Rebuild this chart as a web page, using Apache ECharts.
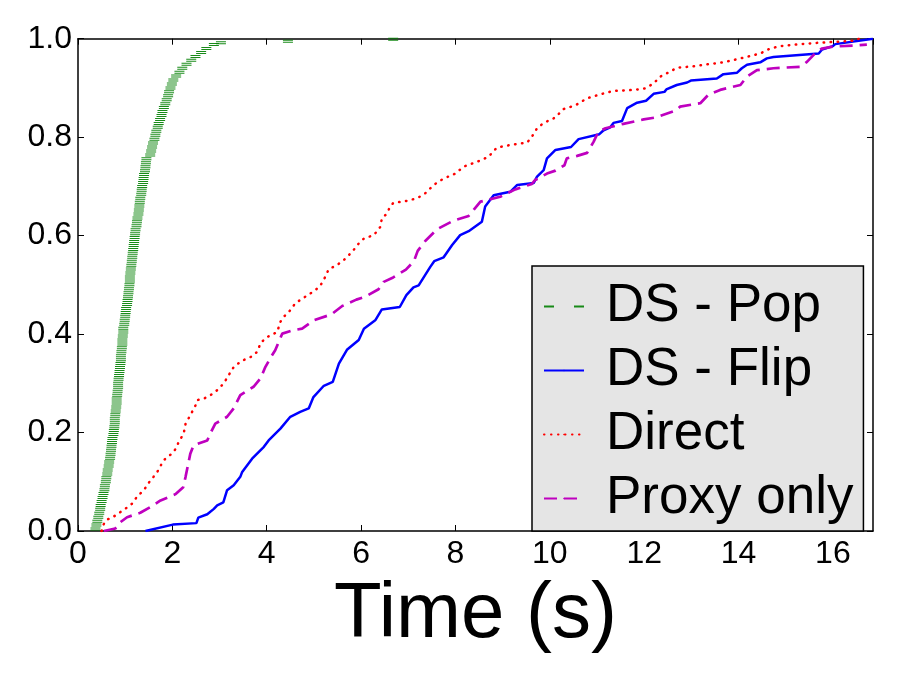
<!DOCTYPE html>
<html><head><meta charset="utf-8">
<script src="https://cdn.jsdelivr.net/npm/echarts@6/dist/echarts.min.js"></script>
<style>html,body{margin:0;padding:0;background:#fff}#c{width:900px;height:675px}</style>
</head><body><div id="c"></div>
<script>
const seriesNames = ['DS - Pop', 'DS - Flip', 'Direct', 'Proxy only'];
const xTitle = 'Time (s)';

const dsPop = [
[0.37,0.004],[0.39,0.012],[0.41,0.020],[0.43,0.028],[0.45,0.036],[0.47,0.044],
[0.48,0.052],[0.50,0.060],[0.52,0.068],[0.54,0.076],[0.56,0.084],[0.57,0.092],[0.59,0.100],
[0.60,0.108],[0.62,0.116],[0.63,0.124],[0.65,0.132],[0.66,0.140],[0.68,0.148],
[0.69,0.156],[0.70,0.164],[0.71,0.172],[0.72,0.180],[0.73,0.188],[0.75,0.196],[0.76,0.204],
[0.77,0.212],[0.78,0.220],[0.78,0.228],[0.79,0.236],[0.80,0.244],[0.81,0.252],
[0.82,0.260],[0.82,0.268],[0.83,0.276],[0.84,0.284],[0.85,0.292],[0.85,0.300],[0.86,0.308],
[0.87,0.316],[0.88,0.324],[0.89,0.332],[0.90,0.340],[0.91,0.348],
[0.91,0.356],[0.92,0.364],[0.93,0.372],[0.94,0.380],[0.94,0.388],[0.95,0.396],[0.96,0.404],
[0.96,0.412],[0.98,0.420],[0.99,0.428],[1.00,0.436],[1.01,0.444],
[1.02,0.452],[1.04,0.460],[1.05,0.468],[1.06,0.476],[1.07,0.484],[1.08,0.492],[1.09,0.500],
[1.10,0.508],[1.10,0.516],[1.11,0.524],[1.12,0.532],[1.13,0.540],
[1.14,0.548],[1.15,0.556],[1.16,0.564],[1.17,0.572],[1.18,0.580],[1.19,0.588],[1.20,0.596],
[1.21,0.604],[1.22,0.612],[1.24,0.620],[1.25,0.628],[1.26,0.636],[1.28,0.644],
[1.29,0.652],[1.30,0.660],[1.31,0.668],[1.32,0.676],[1.34,0.684],[1.35,0.692],
[1.36,0.700],[1.38,0.708],[1.39,0.716],[1.40,0.724],[1.42,0.732],[1.43,0.740],[1.44,0.748],
[1.45,0.756],[1.53,0.764],[1.55,0.772],
[1.57,0.780],[1.59,0.788],[1.62,0.796],[1.64,0.804],[1.66,0.812],
[1.69,0.820],[1.71,0.828],[1.74,0.836],[1.77,0.844],
[1.79,0.852],[1.82,0.860],[1.85,0.868],[1.88,0.876],
[1.91,0.884],[1.93,0.892],[1.96,0.900],[1.99,0.908],[2.02,0.916],
[2.08,0.924],[2.15,0.932],[2.21,0.940],
[2.30,0.948],[2.40,0.956],[2.49,0.964],
[2.61,0.972],[2.72,0.980],[2.88,0.988],[3.03,0.992],
[4.45,0.995],[6.68,0.999]
];

const dsFlip = [
[1.43,0],[2.01,0.013],[2.51,0.016],[2.55,0.027],[2.74,0.034],[2.88,0.045],[2.95,0.052],[3.08,0.058],
[3.16,0.083],[3.30,0.093],[3.44,0.110],[3.48,0.120],[3.69,0.147],[3.94,0.171],[4.04,0.184],[4.29,0.208],
[4.50,0.232],[4.71,0.242],[4.89,0.249],[4.99,0.272],[5.21,0.295],[5.40,0.303],[5.53,0.340],[5.70,0.368],
[5.95,0.388],[6.06,0.411],[6.30,0.428],[6.44,0.450],[6.82,0.455],[6.96,0.479],[7.11,0.495],[7.22,0.499],
[7.47,0.537],[7.55,0.548],[7.75,0.556],[7.93,0.581],[8.10,0.601],[8.28,0.609],[8.56,0.628],[8.63,0.659],
[8.81,0.682],[9.16,0.689],[9.31,0.703],[9.66,0.707],[9.73,0.720],[9.87,0.733],[9.94,0.757],[10.12,0.774],
[10.45,0.780],[10.61,0.796],[11.05,0.806],[11.14,0.814],[11.28,0.820],[11.35,0.829],[11.53,0.833],[11.64,0.859],
[11.85,0.870],[12.04,0.874],[12.20,0.888],[12.43,0.892],[12.47,0.897],[12.69,0.906],[12.91,0.911],[12.99,0.915],
[13.54,0.919],[13.68,0.928],[13.97,0.931],[14.07,0.940],[14.18,0.947],[14.46,0.952],[14.60,0.960],[14.74,0.963],
[15.70,0.970],[15.77,0.978],[16.00,0.985],[16.05,0.989],[16.85,1.0]
];

const direct = [
[0.50,0],[0.54,0.013],[0.61,0.023],[0.72,0.027],[0.86,0.036],[1.03,0.047],[1.14,0.055],[1.27,0.072],
[1.39,0.082],[1.50,0.098],[1.60,0.110],[1.68,0.120],[1.74,0.130],[1.80,0.142],[1.89,0.150],[1.99,0.157],
[2.08,0.168],[2.13,0.180],[2.24,0.198],[2.28,0.218],[2.38,0.235],[2.49,0.255],[2.53,0.266],[2.67,0.269],
[2.81,0.276],[2.95,0.286],[3.09,0.300],[3.19,0.316],[3.30,0.333],[3.46,0.345],[3.67,0.354],[3.80,0.364],
[3.87,0.382],[4.01,0.394],[4.22,0.404],[4.29,0.425],[4.36,0.435],[4.47,0.445],[4.61,0.463],[4.82,0.476],
[5.03,0.489],[5.14,0.499],[5.24,0.516],[5.31,0.531],[5.53,0.543],[5.63,0.550],[5.81,0.567],[5.95,0.584],
[6.06,0.594],[6.27,0.601],[6.41,0.618],[6.44,0.635],[6.55,0.645],[6.62,0.660],[6.69,0.667],[6.90,0.669],
[7.19,0.676],[7.36,0.686],[7.54,0.703],[7.75,0.716],[8.00,0.726],[8.17,0.740],[8.46,0.750],[8.70,0.760],
[8.88,0.779],[9.16,0.784],[9.52,0.789],[9.62,0.801],[9.73,0.818],[9.87,0.829],[10.08,0.838],[10.22,0.850],
[10.29,0.857],[10.55,0.865],[10.79,0.879],[11.07,0.887],[11.35,0.894],[11.78,0.896],[12.02,0.899],[12.20,0.909],
[12.34,0.923],[12.55,0.933],[12.69,0.941],[13.05,0.944],[13.33,0.948],[13.61,0.951],[13.82,0.955],[14.04,0.960],
[14.25,0.965],[14.46,0.970],[14.67,0.980],[14.89,0.985],[15.31,0.989],[15.73,0.992],[16.15,0.994],[16.44,0.996],
[16.55,1.0]
];

const proxyOnly = [
[0.55,0],[0.79,0.005],[0.90,0.018],[1.04,0.028],[1.32,0.037],[1.54,0.049],[1.75,0.062],[2.07,0.075],
[2.23,0.089],[2.28,0.110],[2.38,0.157],[2.45,0.174],[2.74,0.184],[2.84,0.205],[2.91,0.218],[3.16,0.232],
[3.30,0.249],[3.44,0.276],[3.72,0.293],[3.87,0.310],[3.97,0.333],[4.10,0.355],[4.18,0.367],[4.33,0.401],
[4.57,0.408],[4.75,0.411],[5.00,0.428],[5.37,0.440],[5.60,0.457],[5.90,0.470],[6.09,0.476],[6.37,0.491],
[6.48,0.506],[6.68,0.515],[6.95,0.531],[7.12,0.548],[7.20,0.569],[7.36,0.589],[7.61,0.613],[7.95,0.630],
[8.28,0.640],[8.39,0.653],[8.53,0.669],[8.95,0.679],[9.27,0.694],[9.62,0.705],[9.69,0.713],[9.94,0.726],
[10.12,0.732],[10.31,0.743],[10.36,0.757],[10.58,0.762],[10.79,0.768],[10.93,0.791],[11.03,0.811],[11.18,0.818],
[11.56,0.827],[11.99,0.836],[12.24,0.840],[12.69,0.855],[12.76,0.862],[13.19,0.869],[13.36,0.886],[13.61,0.896],
[14.04,0.906],[14.18,0.923],[14.39,0.936],[14.74,0.940],[15.31,0.943],[15.45,0.953],[15.66,0.974],[15.77,0.980],
[16.01,0.984],[16.44,0.986],[16.72,0.988]
];

const xMin = 0, xMax = 16.85, xStep = 2;
const yMin = 0, yMax = 1, yStep = 0.2;

const F = 'Liberation Sans, Arial, sans-serif';
const frameLine = {show: true, onZero: false, lineStyle: {color: '#000', width: 1.5}};
const tickIn = {show: true, inside: true, length: 6, lineStyle: {color: '#000', width: 1}};

function xAxis(pos, labels) {
  return {
    type: 'value', position: pos, min: xMin, max: xMax, interval: xStep,
    axisLine: frameLine, axisTick: tickIn, splitLine: {show: false},
    axisLabel: {show: labels, showMaxLabel: false, margin: 7, color: '#000', fontSize: 32, fontFamily: F},
    name: labels ? xTitle : '', nameLocation: 'middle', nameGap: 45,
    nameTextStyle: {fontSize: 78, color: '#000', fontFamily: F}
  };
}
function yAxis(pos, labels) {
  return {
    type: 'value', position: pos, min: yMin, max: yMax, interval: yStep,
    axisLine: frameLine, axisTick: tickIn, splitLine: {show: false},
    axisLabel: {show: labels, margin: 6, color: '#000', fontSize: 32, fontFamily: F,
      formatter: v => v.toFixed(1)}
  };
}

const chart = echarts.init(document.getElementById('c'), null, {renderer: 'canvas'});
chart.setOption({
  animation: false,
  backgroundColor: '#fff',
  grid: {left: 78, right: 27, top: 38.7, bottom: 144, containLabel: false},
  xAxis: [xAxis('bottom', true), xAxis('top', false)],
  yAxis: [yAxis('left', true), yAxis('right', false)],
  legend: {
    orient: 'vertical', left: 532, top: 266, padding: [14, 10, 6, 11],
    itemWidth: 40, itemHeight: 2, itemGap: 11,
    backgroundColor: '#e5e5e5', borderColor: '#000', borderWidth: 1.5, borderRadius: 0,
    selectedMode: false,
    textStyle: {fontSize: 53, lineHeight: 50, color: '#000', fontFamily: F, padding: [0, 0, 0, 17]},
    data: [
      {name: seriesNames[0], icon: 'path://M0,0h10v2h-10z M30,0h10v2h-10z'},
      seriesNames[1], seriesNames[2], seriesNames[3]
    ]
  },
  series: [
    {name: seriesNames[0], type: 'scatter', data: dsPop,
      symbol: 'path://M0,0h10v1h-10z M0,2h10v1h-10z', symbolSize: [10, 3],
      itemStyle: {color: '#008000', opacity: 0.9}, z: 2},
    {name: seriesNames[1], type: 'line', data: dsFlip, symbol: 'none',
      lineStyle: {color: '#0000ff', width: 2.5}, itemStyle: {color: '#0000ff'}, z: 3},
    {name: seriesNames[2], type: 'line', data: direct, symbol: 'none',
      lineStyle: {color: '#ff0000', width: 2.5, type: [0.5, 6.5], cap: 'round'}, itemStyle: {color: '#ff0000'}, z: 3},
    {name: seriesNames[3], type: 'line', data: proxyOnly, symbol: 'none',
      lineStyle: {color: '#bf00bf', width: 2.7, type: [13, 7]}, itemStyle: {color: '#bf00bf'}, z: 3}
  ]
});
</script>
</body></html>
